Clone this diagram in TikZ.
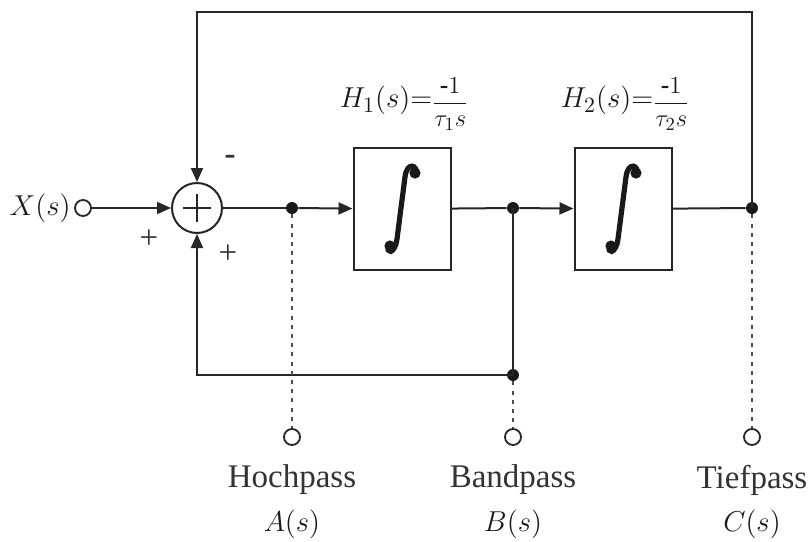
\documentclass[tikz,border=0pt]{standalone}
\usepackage{amsmath}
\usepackage{graphicx}
\usepackage{fontspec}
\setmainfont{Liberation Serif}
\usetikzlibrary{arrows.meta}
\begin{document}
\begin{tikzpicture}[x=0.5pt,y=-0.5pt,
  font=\fontsize{16.5}{19}\selectfont,
  line/.style={draw=black!85, line width=1pt},
  arr/.style={line, -{Triangle[length=7pt,width=6pt]}},
  sumnode/.style={circle, draw=black!85, line width=1pt, minimum size=25pt, inner sep=0pt},
  intbox/.style={rectangle, draw=black!85, line width=1pt, minimum width=48.5pt, minimum height=61pt, inner sep=0pt},
  junction/.style={circle, fill=black!90, minimum size=6pt, inner sep=0pt},
  port/.style={circle, draw=black!85, line width=0.9pt, fill=white, minimum size=8pt, inner sep=0pt},
  tap/.style={draw=black!70, line width=1.2pt, dash pattern=on 2pt off 2.6pt},
  lbl/.style={inner sep=0pt, text=black!80},
  varlbl/.style={lbl, font=\fontsize{15}{18}\selectfont, text=black!90},
  intstroke/.style={draw=black!90, line width=2.6pt, line cap=round},
  intball/.style={fill=black!90},
  integralsign/.pic={
    \draw[intstroke] (14,-35) .. controls (16,-44) and (5,-48) .. (3,-32)
                     -- (-5,30) .. controls (-7,46) and (-17,45) .. (-13,36);
    \fill[intball] (13,-36) circle[radius=2.8pt];
    \fill[intball] (-12,37) circle[radius=2.8pt];
  }
]
\useasboundingbox (0,0) rectangle (811,542);
% nodes
\node[port] (xin) at (83,208) {};
\node[varlbl, anchor=east] (xlbl) at (71,208) {$X(s)$};
\node[sumnode] (sum) at (197,208) {};
\draw[line] ([xshift=-7pt]sum.center) -- ([xshift=7pt]sum.center)
            ([yshift=-7pt]sum.center) -- ([yshift=7pt]sum.center);
\node[junction] (dA) at (292,208) {};
\node[intbox] (h1) at (402,209) {};
\pic at (h1.center) {integralsign};
\node[junction] (dB) at (513,208) {};
\node[intbox] (h2) at (623,209) {};
\pic at (h2.center) {integralsign};
\node[junction] (dC) at (752,208) {};
\node[junction] (dB2) at (513,375) {};
\coordinate (topR) at (752,12);
\coordinate (topL) at (197,12);
\coordinate (botL) at (197,375);
% outputs
\node[port] (oA) at (292,437) {};
\node[port] (oB) at (513,437) {};
\node[port] (oC) at (752,437) {};
\node[lbl] (tA) at (292,480) {Hochpass};
\node[lbl] (tB) at (513,480) {Bandpass};
\node[lbl] (tC) at (752,480) {Tiefpass};
\node[varlbl] (sA) at (292,524) {$A(s)$};
\node[varlbl] (sB) at (513,524) {$B(s)$};
\node[varlbl] (sC) at (752,524) {$C(s)$};
% transfer function labels
\node[varlbl] (l1) at (404,104) {$H_1(s){=}\raisebox{-1pt}{\scalebox{0.85}{$\dfrac{\textbf{-}1}{\tau_1 s}$}}$};
\node[varlbl] (l2) at (625,104) {$H_2(s){=}\raisebox{-1pt}{\scalebox{0.85}{$\dfrac{\textbf{-}1}{\tau_2 s}$}}$};
% signs
\node[lbl] (mneg) at (230,160) {\textbf{-}};
\node[lbl] (pin) at (149,239) {+};
\node[lbl] (pfb) at (228,254) {+};
% connectors
\draw[arr] (xin) -- (sum);
\draw[line] (sum) -- (dA);
\draw[arr] (dA) -- (h1);
\draw[line] (h1) -- (dB);
\draw[arr] (dB) -- (h2);
\draw[line] (h2) -- (dC);
\draw[arr] (dC.center) -- (topR) -- (topL) -- (sum);
\draw[line] (dB.center) -- (dB2.center);
\draw[arr] (dB2.center) -- (botL) -- (sum);
% taps
\draw[tap] (dA) -- (oA);
\draw[tap] (dB2) -- (oB);
\draw[tap] (dC) -- (oC);
\end{tikzpicture}
\end{document}
